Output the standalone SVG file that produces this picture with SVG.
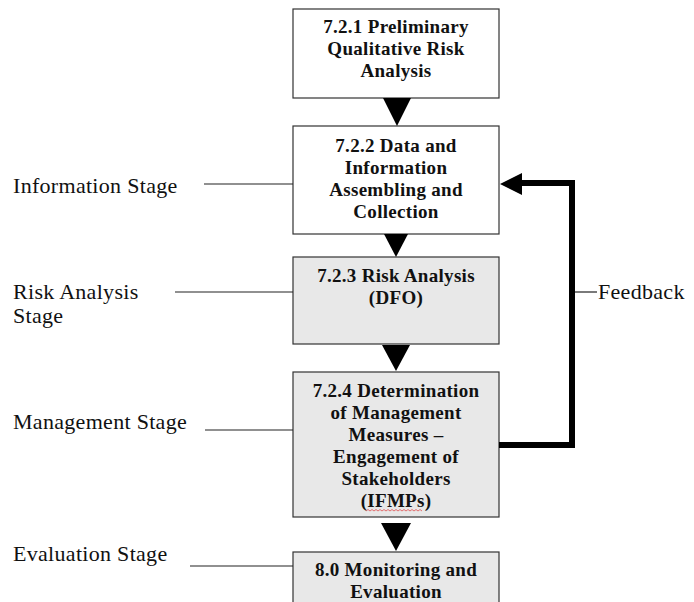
<svg xmlns="http://www.w3.org/2000/svg" width="694" height="602" viewBox="0 0 694 602">
<style>
.box{stroke:#333;stroke-width:1.2}
.w{fill:#fff}
.g{fill:#e8e8e8}
.bt{font-family:"Liberation Serif","Times New Roman",serif;font-weight:bold;font-size:19px;fill:#111;text-anchor:middle;letter-spacing:0.3px}
.lt{font-family:"Liberation Serif","Times New Roman",serif;font-size:22px;fill:#111;letter-spacing:0.3px}
.thin{stroke:#222;stroke-width:1.2;fill:none}
.fb{stroke:#000;stroke-width:6;fill:none}
.tri{fill:#000}
</style>
<rect width="694" height="602" fill="#fff"/>
<g id="n1">
<rect class="box w" x="293" y="9" width="206" height="89"/>
<text class="bt" x="396" y="33">7.2.1 Preliminary</text>
<text class="bt" x="396" y="55">Qualitative Risk</text>
<text class="bt" x="396" y="77">Analysis</text>
</g>
<g id="n2">
<rect class="box w" x="293" y="126" width="206" height="108"/>
<text class="bt" x="396" y="152">7.2.2 Data and</text>
<text class="bt" x="396" y="174">Information</text>
<text class="bt" x="396" y="196">Assembling and</text>
<text class="bt" x="396" y="218">Collection</text>
</g>
<g id="n3">
<rect class="box g" x="293" y="257" width="206" height="87"/>
<text class="bt" x="396" y="282">7.2.3 Risk Analysis</text>
<text class="bt" x="396" y="304">(DFO)</text>
</g>
<g id="n4">
<rect class="box g" x="293" y="372" width="206" height="145"/>
<text class="bt" x="396" y="397">7.2.4 Determination</text>
<text class="bt" x="396" y="419">of Management</text>
<text class="bt" x="396" y="441">Measures –</text>
<text class="bt" x="396" y="463">Engagement of</text>
<text class="bt" x="396" y="485">Stakeholders</text>
<text class="bt" x="396" y="507">(IFMPs)</text>
<path d="M366 511 l2 -1.5 l2 1.5 l2 -1.5 l2 1.5 l2 -1.5 l2 1.5 l2 -1.5 l2 1.5 l2 -1.5 l2 1.5 l2 -1.5 l2 1.5 l2 -1.5 l2 1.5 l2 -1.5 l2 1.5 l2 -1.5 l2 1.5 l2 -1.5 l2 1.5 l2 -1.5 l2 1.5 l2 -1.5 l2 1.5 l2 -1.5 l2 1.5 l2 -1.5 l2 1.5" stroke="#e05050" stroke-width="0.8" fill="none"/>
</g>
<g id="n5">
<rect class="box g" x="293" y="552" width="206" height="60"/>
<text class="bt" x="396" y="576">8.0 Monitoring and</text>
<text class="bt" x="396" y="598">Evaluation</text>
</g>
<g id="labels">
<text class="lt" x="13" y="193">Information Stage</text>
<text class="lt" x="13" y="299">Risk Analysis</text>
<text class="lt" x="13" y="323">Stage</text>
<text class="lt" x="13" y="429">Management Stage</text>
<text class="lt" x="13" y="561">Evaluation Stage</text>
<text class="lt" x="598" y="299">Feedback</text>
</g>
<g id="connectors">
<polygon class="tri" points="383,98 411,98 397,126"/>
<polygon class="tri" points="384,234 408,234 396,257"/>
<polygon class="tri" points="382,345 410,345 396,371"/>
<polygon class="tri" points="381,523 411,523 396,551"/>
<line class="thin" x1="204" y1="184" x2="293" y2="184"/>
<line class="thin" x1="175" y1="292" x2="293" y2="292"/>
<line class="thin" x1="205" y1="430" x2="293" y2="430"/>
<line class="thin" x1="190" y1="566" x2="293" y2="566"/>
<line class="thin" x1="575" y1="292" x2="597" y2="292"/>
<polyline class="fb" points="499,445 572,445 572,183 519,183"/>
<polygon class="tri" points="500,184 522,173 522,195"/>
</g>
</svg>
